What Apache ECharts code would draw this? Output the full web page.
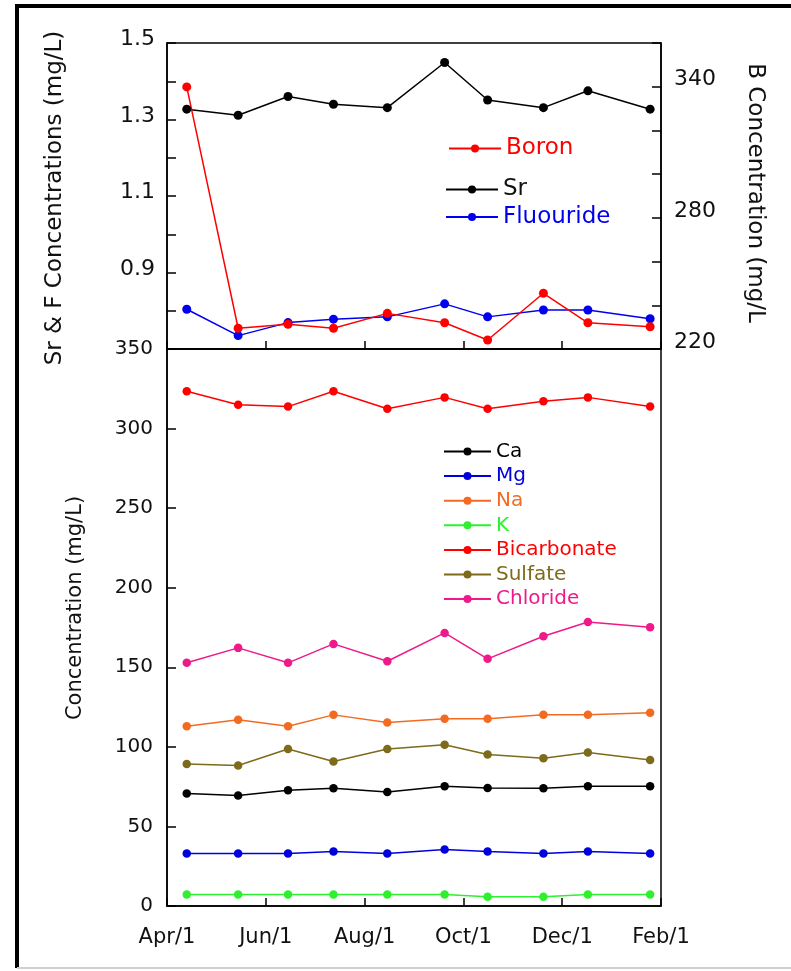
<!DOCTYPE html>
<html>
<head>
<meta charset="utf-8">
<script src="https://cdn.jsdelivr.net/npm/echarts@6/dist/echarts.min.js"></script>
<style>
html,body{margin:0;padding:0;background:#fff;}
#chart{width:791px;height:971px;}
</style>
</head>
<body>
<div id="chart"></div>
<script>
// ---- data ----
const sampleMonths = [0.4, 1.44, 2.45, 3.37, 4.46, 5.62, 6.49, 7.62, 8.52, 9.78]; // months after Apr/1
const xTickLabels = ['Apr/1', 'Jun/1', 'Aug/1', 'Oct/1', 'Dec/1', 'Feb/1'];
const leftTopTickLabels = ['0.9', '1.1', '1.3', '1.5'];
const rightTopTickLabels = ['220', '280', '340'];

const sr = [1.327, 1.311, 1.36, 1.34, 1.331, 1.449, 1.351, 1.331, 1.375, 1.327];
const fluoride = [0.804, 0.735, 0.769, 0.778, 0.784, 0.818, 0.784, 0.802, 0.802, 0.779];
const boron = [339.9, 229.5, 231.3, 229.5, 236.3, 232.0, 224.1, 245.5, 232.0, 230.2];

const ca = [70.7, 69.4, 72.7, 74.0, 71.7, 75.3, 74.2, 74.0, 75.3, 75.3];
const mg = [33.0, 33.0, 33.0, 34.2, 33.0, 35.5, 34.2, 33.0, 34.2, 33.0];
const na = [112.9, 117.1, 112.9, 120.1, 115.3, 117.6, 117.6, 120.1, 120.1, 121.4];
const k = [7.2, 7.2, 7.2, 7.2, 7.2, 7.2, 5.8, 5.8, 7.2, 7.2];
const bicarbonate = [323.4, 315.0, 313.8, 323.4, 312.5, 319.6, 312.5, 317.1, 319.6, 313.8];
const sulfate = [89.3, 88.3, 98.7, 90.8, 98.7, 101.3, 95.2, 92.8, 96.4, 91.8];
const chloride = [152.8, 162.2, 152.8, 164.7, 153.8, 171.6, 155.3, 169.5, 178.5, 175.1];

// ---- styling ----
const FONT = 'DejaVu Sans';
const TXT = '#111111';
const pair = arr => arr.map((v, i) => [sampleMonths[i], v]);

function mkSeries(name, data, color, xi, yi, size) {
  return {
    name: name, type: 'line', xAxisIndex: xi, yAxisIndex: yi,
    data: pair(data), symbol: 'circle', symbolSize: size,
    itemStyle: {color: color}, lineStyle: {color: color, width: 1.5},
    animation: false
  };
}

const lowerDefs = [
  ['Ca', ca, '#000000'],
  ['Mg', mg, '#0000dd'],
  ['Na', na, '#f26b21'],
  ['K', k, '#2ef02e'],
  ['Bicarbonate', bicarbonate, '#ff0000'],
  ['Sulfate', sulfate, '#7d6a1a'],
  ['Chloride', chloride, '#ee1a8a']
];

const series = [
  mkSeries('Sr', sr, '#000000', 0, 0, 9),
  mkSeries('Fluouride', fluoride, '#0000ee', 0, 0, 9),
  mkSeries('Boron', boron, '#ff0000', 0, 1, 9)
];
lowerDefs.forEach(d => series.push(mkSeries(d[0], d[1], d[2], 1, 2, 8.5)));

const axisLineStyle = {show: true, lineStyle: {color: '#000', width: 1.5}};
const xAxisCommon = {
  type: 'value', min: 0, max: 10, interval: 2,
  axisLine: axisLineStyle,
  axisTick: {show: true, inside: true, length: 8, lineStyle: {color: '#000', width: 1.5}},
  splitLine: {show: false}
};

function topLegend(name, color, top, left) {
  return {
    data: [{name: name, textStyle: {color: color}}],
    left: left, top: top, orient: 'vertical', padding: 0,
    itemWidth: 52, itemHeight: 10,
    textStyle: {fontFamily: FONT, fontSize: 23, color: color},
    selectedMode: false
  };
}

const option = {
  backgroundColor: '#ffffff',
  animation: false,
  grid: [
    {left: 167, top: 43, width: 494, height: 306, show: true, borderColor: '#000', borderWidth: 1.5, backgroundColor: 'transparent'},
    {left: 167, top: 349, width: 494, height: 557, show: true, borderColor: '#000', borderWidth: 1.5, backgroundColor: 'transparent'}
  ],
  xAxis: [
    Object.assign({}, xAxisCommon, {gridIndex: 0, axisLabel: {show: false}}),
    Object.assign({}, xAxisCommon, {
      gridIndex: 1,
      axisLabel: {
        show: true, margin: 21, fontFamily: FONT, fontSize: 21, color: TXT,
        formatter: v => xTickLabels[Math.round(v / 2)] || ''
      }
    })
  ],
  yAxis: [
    {
      type: 'value', gridIndex: 0, position: 'left', min: 0.7, max: 1.5, interval: 0.1,
      axisLine: axisLineStyle,
      axisTick: {show: true, inside: true, length: 9, lineStyle: {color: '#000', width: 1.5}},
      splitLine: {show: false},
      axisLabel: {
        margin: 12, fontFamily: FONT, fontSize: 22, color: TXT, verticalAlign: 'bottom', lineHeight: 7,
        formatter: v => { const s = (Math.round(v * 10) / 10).toFixed(1); return leftTopTickLabels.indexOf(s) >= 0 ? s : ''; }
      }
    },
    {
      type: 'value', gridIndex: 0, position: 'right', min: 220, max: 360, interval: 20,
      axisLine: axisLineStyle,
      axisTick: {show: true, inside: true, length: 9, lineStyle: {color: '#000', width: 1.5}},
      splitLine: {show: false},
      axisLabel: {
        margin: 13, fontFamily: FONT, fontSize: 22, color: TXT, verticalAlign: 'bottom', lineHeight: 14,
        formatter: v => { const s = String(Math.round(v)); return rightTopTickLabels.indexOf(s) >= 0 ? s : ''; }
      }
    },
    {
      type: 'value', gridIndex: 1, position: 'left', min: 0, max: 350, interval: 50,
      axisLine: axisLineStyle,
      axisTick: {show: true, inside: true, length: 9, lineStyle: {color: '#000', width: 1.5}},
      splitLine: {show: false},
      axisLabel: {margin: 14, fontFamily: FONT, fontSize: 20, color: TXT}
    }
  ],
  legend: [
    topLegend('Boron', '#ff0000', 137, 448),
    topLegend('Sr', '#111111', 178, 445),
    topLegend('Fluouride', '#0000ee', 205.5, 445),
    {
      data: lowerDefs.map(d => ({name: d[0], textStyle: {color: d[2]}})),
      left: 443, top: 441.5, orient: 'vertical', padding: 0,
      itemWidth: 47, itemHeight: 10, itemGap: 4.6,
      textStyle: {fontFamily: FONT, fontSize: 20},
      selectedMode: false
    }
  ],
  graphic: [
    {type: 'line', shape: {x1: 17, y1: 4, x2: 17, y2: 968}, style: {stroke: '#000', lineWidth: 4}, silent: true},
    {type: 'line', shape: {x1: 15, y1: 6, x2: 791, y2: 6}, style: {stroke: '#000', lineWidth: 4}, silent: true},
    {type: 'line', shape: {x1: 17, y1: 968, x2: 791, y2: 968}, style: {stroke: '#d0d0d0', lineWidth: 2}, silent: true},
    {type: 'text', x: 55, y: 198, rotation: Math.PI / 2,
      style: {text: 'Sr & F Concentrations (mg/L)', fontFamily: FONT, fontSize: 23, fill: TXT, align: 'center', verticalAlign: 'middle'}},
    {type: 'text', x: 755, y: 193, rotation: -Math.PI / 2,
      style: {text: 'B Concentration (mg/L', fontFamily: FONT, fontSize: 23, fill: TXT, align: 'center', verticalAlign: 'middle'}},
    {type: 'text', x: 76, y: 608, rotation: Math.PI / 2,
      style: {text: 'Concentration (mg/L)', fontFamily: FONT, fontSize: 21, fill: TXT, align: 'center', verticalAlign: 'middle'}}
  ],
  series: series
};

const chart = echarts.init(document.getElementById('chart'), null, {renderer: 'canvas'});
chart.setOption(option);
</script>
</body>
</html>
